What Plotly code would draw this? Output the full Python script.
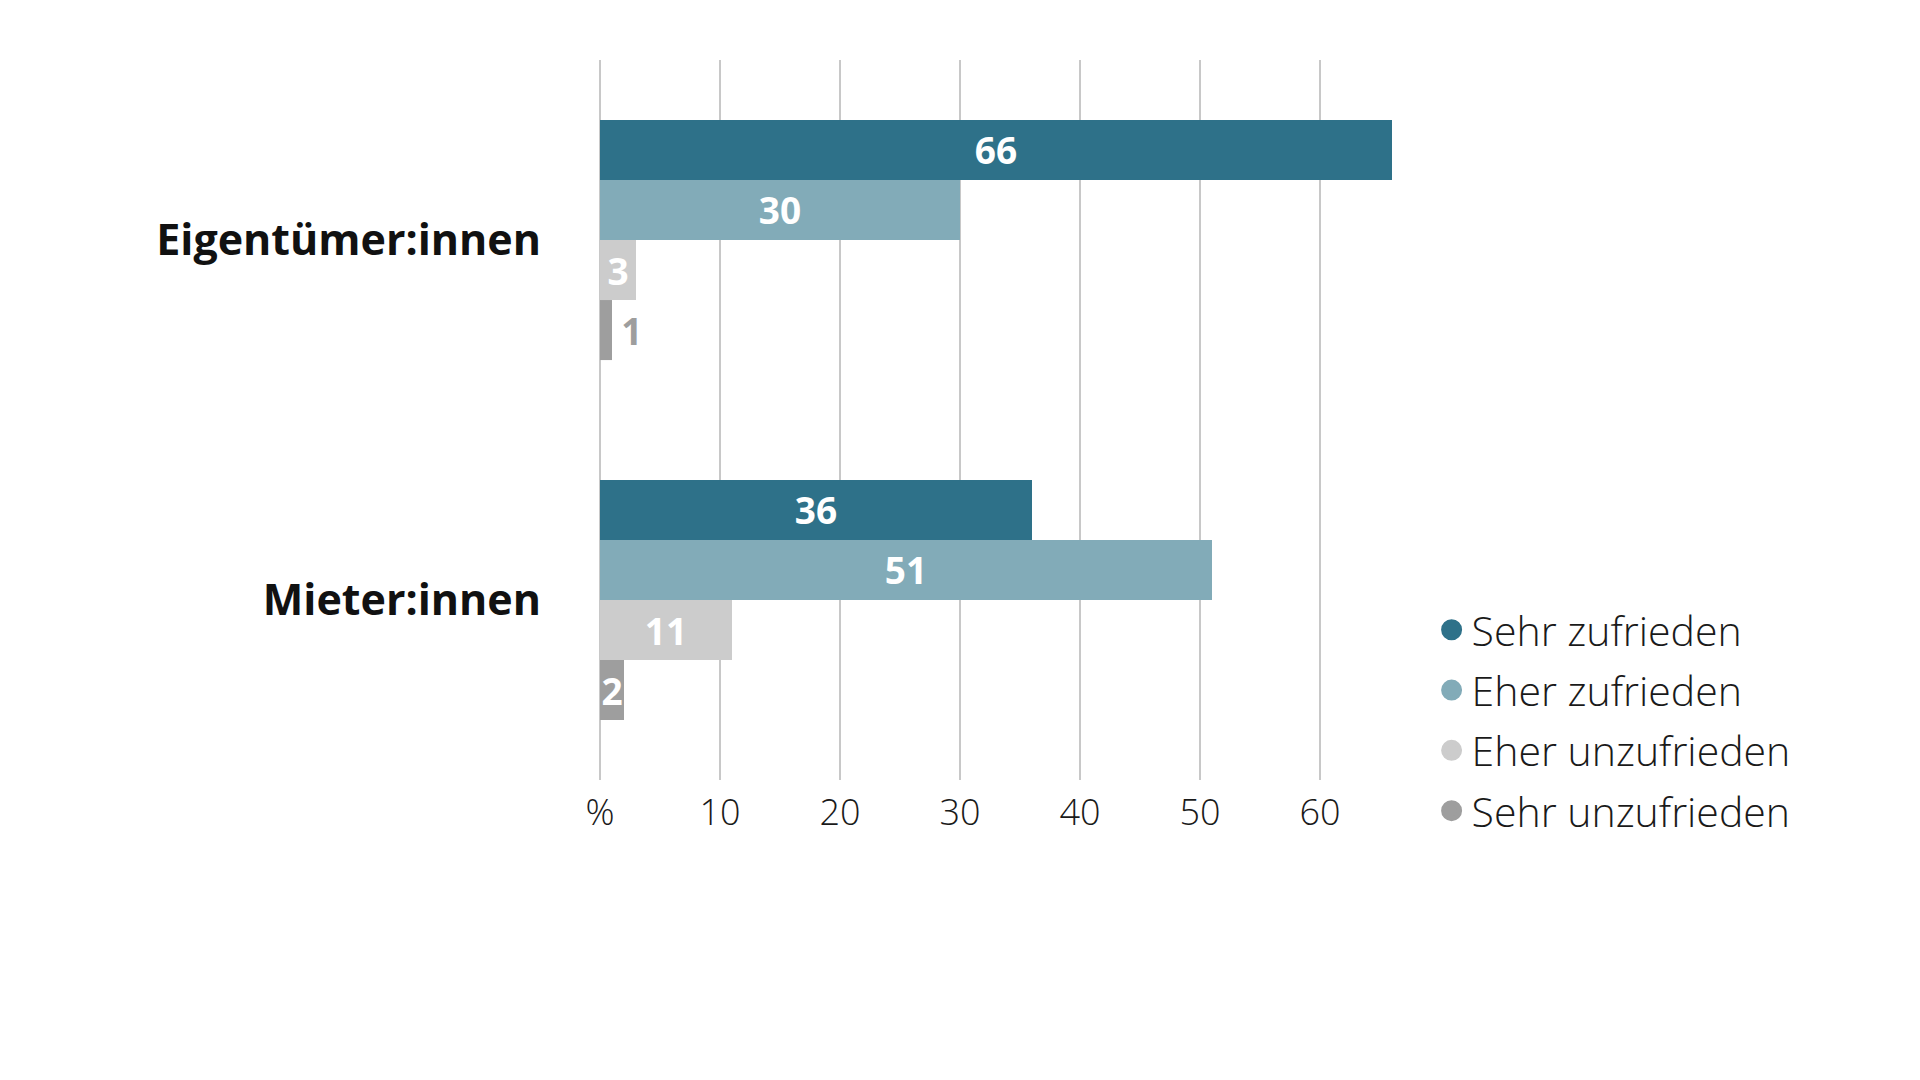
import plotly.graph_objects as go

categories = ["Eigentümer:innen", "Mieter:innen"]
series_names = ["Sehr zufrieden", "Eher zufrieden", "Eher unzufrieden", "Sehr unzufrieden"]
sehr_zufrieden = [66, 36]
eher_zufrieden = [30, 51]
eher_unzufrieden = [3, 11]
sehr_unzufrieden = [1, 2]
tick_values = [0, 10, 20, 30, 40, 50, 60]
tick_labels = ["%", "10", "20", "30", "40", "50", "60"]

values = [sehr_zufrieden, eher_zufrieden, eher_unzufrieden, sehr_unzufrieden]
colors = ["#2e7189", "#82abb8", "#cccccc", "#9e9e9e"]

fig = go.Figure()
for name, vals, col in zip(series_names, values, colors):
    positions = ["outside" if v < 2 else "inside" for v in vals]
    labels = [("\u2009" + str(v)) if v < 2 else str(v) for v in vals]
    fig.add_trace(go.Bar(
        y=categories, x=vals, name=name, orientation="h",
        marker=dict(color=col, line=dict(width=0)),
        text=labels, textposition=positions,
        insidetextanchor="middle", constraintext="none", cliponaxis=False,
        insidetextfont=dict(family="Open Sans", size=37, color="white", weight=700),
        outsidetextfont=dict(family="Open Sans", size=37, color="#9e9e9e", weight=700),
        showlegend=False, hoverinfo="skip",
    ))
for name, col in zip(series_names, colors):
    fig.add_trace(go.Scatter(
        x=[None], y=[None], mode="markers", name=name, legendgroup=name,
        marker=dict(symbol="circle", size=16, color=col, line=dict(color=col, width=5)),
    ))

fig.update_layout(
    width=1920, height=1080,
    margin=dict(l=592, r=488, t=52, b=308),
    paper_bgcolor="white", plot_bgcolor="white",
    barmode="group", bargap=0.333, bargroupgap=0,
    font=dict(family="Open Sans", size=36, color="#1a1a1a", weight=300),
    legend=dict(x=0.990, xanchor="left", y=0.2547, yanchor="top",
                font=dict(family="Open Sans", size=41, color="#1a1a1a", weight=300),
                tracegroupgap=4, itemsizing="trace", bgcolor="rgba(0,0,0,0)"),
)
fig.update_xaxes(range=[0, 70], tickvals=tick_values, ticktext=tick_labels,
                 showgrid=True, gridcolor="#c8c8c8", gridwidth=2,
                 zeroline=True, zerolinecolor="#c8c8c8", zerolinewidth=2,
                 showline=False, ticks="",
                 ticklabelstandoff=8,
                 tickfont=dict(family="Open Sans", size=36, color="#1a1a1a", weight=300))
fig.update_yaxes(categoryorder="array", categoryarray=categories,
                 range=[1.5, -0.5], showgrid=False, zeroline=False, showline=False,
                 ticks="", ticklabelstandoff=58,
                 tickfont=dict(family="Open Sans", size=43, color="#111111", weight=700))

fig.write_html("out.html")
